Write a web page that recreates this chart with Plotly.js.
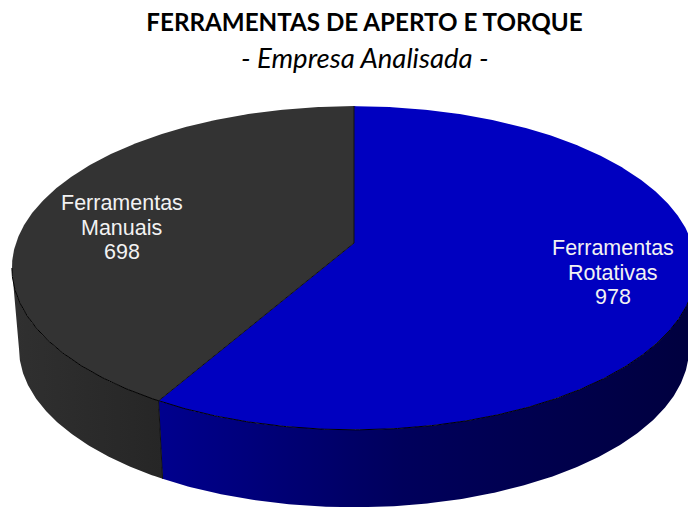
<!DOCTYPE html>
<html><head><meta charset="utf-8">
<script src="https://cdn.plot.ly/plotly-3.0.1.min.js"></script>
<style>html,body{margin:0;padding:0;background:#fff;overflow:hidden}</style></head>
<body><div id="chart" style="width:688px;height:507px"></div>
<script>
const categories = ['Ferramentas Rotativas', 'Ferramentas Manuais'];
const values = [978, 698];
const labelLines = [['Ferramentas', 'Rotativas'], ['Ferramentas', 'Manuais']];
const topColors = ['#0000C0', '#333333'];
const sideColors = [
  [[0, '#00008E'], [0.45, '#00005C'], [1, '#00003E']],
  [[0, '#303030'], [1, '#262626']]
];
const chartTitle = 'FERRAMENTAS DE APERTO E TORQUE';
const chartSubtitle = '- Empresa Analisada -';

/* tilt of the drawing: perspective disc in page units */
const k = 0.1543;
const topDisc = {cx: 354, cy: 243, sx: 338, sy: 158};
const baseDisc = {cx: 354, cy: 324, sx: 331, sy: 155};
const labelAt = [[613, 248], [121.5, 203]];
const lineGap = 24.5;

function project(d, deg) {
  const a = deg * Math.PI / 180, w = 1 + k * Math.cos(a);
  return [d.cx + d.sx * Math.sin(a) / w, d.cy - d.sy * Math.cos(a) / w];
}
function arc(d, from, to) {
  const n = Math.max(2, Math.ceil(Math.abs(to - from) * 2)), pts = [];
  for (let i = 0; i <= n; i++) pts.push(project(d, from + (to - from) * i / n));
  return pts;
}
const xs = p => p.map(q => q[0]), ys = p => p.map(q => q[1]);

const total = values.reduce((a, b) => a + b, 0);
const angles = [0];
values.forEach(v => angles.push(angles[angles.length - 1] + v / total * 360));
const sideEdge = 180 / Math.PI * Math.acos(-k);   // where the rim turns away
const visible = [[sideEdge, angles[1]], [angles[1], 360 - sideEdge]];

const traces = [];
categories.forEach((name, i) => {
  const [a, b] = visible[i];
  const wall = arc(topDisc, a, b).concat(arc(baseDisc, b, a));
  wall.push(wall[0]);
  const wx = xs(wall);
  traces.push({type: 'scatter', mode: 'lines', x: wx, y: ys(wall), name: name + ' lado',
    fill: 'toself', line: {width: 0, color: sideColors[i][0][1]}, hoverinfo: 'skip',
    fillgradient: {type: 'horizontal',
      colorscale: i === 0 ? sideColors[0] : sideColors[1],
      start: Math.min(...wx), stop: Math.max(...wx)}});
});
categories.forEach((name, i) => {
  const f = [[topDisc.cx, topDisc.cy]].concat(arc(topDisc, angles[i], angles[i + 1]));
  f.push(f[0]);
  traces.push({type: 'scatter', mode: 'lines', x: xs(f), y: ys(f), name,
    fill: 'toself', fillcolor: topColors[i], line: {width: 0, color: topColors[i]},
    hovertemplate: name + ': ' + values[i] + '<extra></extra>'});
});
const rim = arc(topDisc, sideEdge, 360 - sideEdge);
traces.push({type: 'scatter', mode: 'lines', x: xs(rim), y: ys(rim), hoverinfo: 'skip',
  line: {color: '#000', width: 1}});
angles.slice(0, 2).forEach((a, i) => {
  const p = project(topDisc, a);
  const seam = i === 0 ? [p, [topDisc.cx, topDisc.cy]]
    : [[topDisc.cx, topDisc.cy], p, project(baseDisc, a)];
  traces.push({type: 'scatter', mode: 'lines', x: xs(seam), y: ys(seam), hoverinfo: 'skip',
    line: {color: '#111', width: 1}});
});

const annotations = [{
  text: '<i>' + chartSubtitle + '</i>', x: 364.5, y: 57, xref: 'x', yref: 'y', showarrow: false,
  font: {family: 'Lato, Carlito, sans-serif', size: 27.5, color: '#000'}
}];
categories.forEach((name, i) => {
  labelLines[i].concat([String(values[i])]).forEach((t, j) => annotations.push({
    text: t, x: labelAt[i][0], y: labelAt[i][1] + j * lineGap, xref: 'x', yref: 'y', showarrow: false,
    font: {family: '"Liberation Sans", Arial, sans-serif', size: 21.5, color: '#F2F2F2'}
  }));
});

Plotly.newPlot('chart', traces, {
  width: 688, height: 507, showlegend: false,
  margin: {l: 0, r: 0, t: 0, b: 0},
  paper_bgcolor: '#fff', plot_bgcolor: '#fff',
  title: {text: '<b>' + chartTitle + '</b>', x: 364.5 / 688, xanchor: 'center', y: 1 - 23 / 507, yanchor: 'middle',
    font: {family: 'Lato, Carlito, sans-serif', size: 24.2, color: '#000'}},
  xaxis: {range: [0, 688], visible: false, fixedrange: true},
  yaxis: {range: [507, 0], visible: false, fixedrange: true},
  annotations
}, {displayModeBar: false, staticPlot: true});
</script></body></html>
